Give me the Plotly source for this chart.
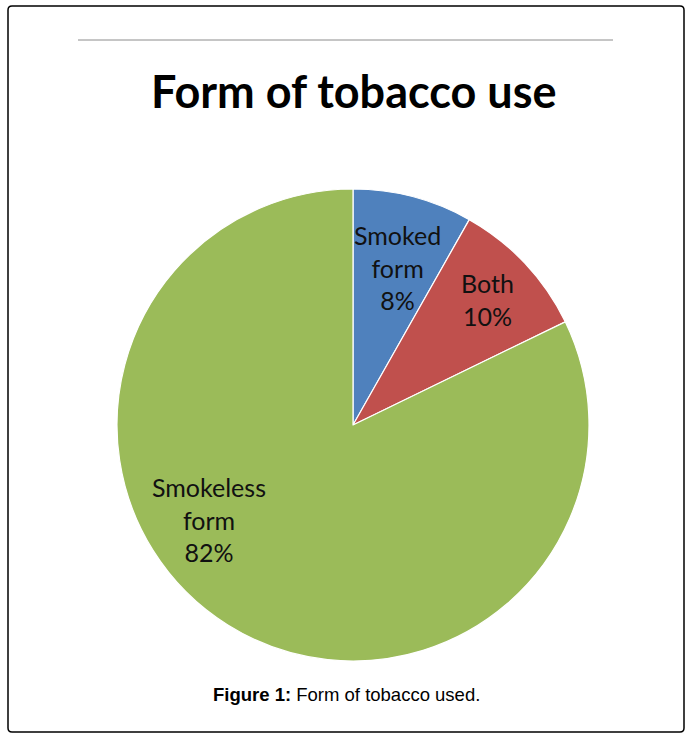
import plotly.graph_objects as go

# Datos del gráfico
categorias = ["Smoked form", "Both", "Smokeless form"]
porcentajes = [8.2, 9.6, 82.2]
colores = ["#4F81BD", "#C0504D", "#9BBB59"]

titulo = "Form of tobacco use"
pie_de_figura = "<b>Figure 1:</b> Form of tobacco used."

W, H = 693, 740


def px_x(x):
    return x / W


def px_y(y):
    return 1 - y / H


fig = go.Figure()

fig.add_trace(go.Pie(
    labels=categorias,
    values=porcentajes,
    sort=False,
    direction="clockwise",
    rotation=0,
    textinfo="none",
    hoverinfo="label+percent",
    marker=dict(colors=colores, line=dict(color="white", width=1.2)),
    domain=dict(x=[px_x(117), px_x(589)], y=[px_y(661), px_y(189)]),
    showlegend=False,
))

# Etiquetas de las porciones (posición a mano, como en Excel)
pos_etiquetas = [(397, 267), (487, 299), (209, 519)]
anotaciones = []
for cat, val, (x, y) in zip(categorias, porcentajes, pos_etiquetas):
    texto = "<br>".join(cat.split(" ")) + f"<br>{round(val)}%"
    anotaciones.append(dict(
        x=px_x(x), y=px_y(y), xref="paper", yref="paper",
        text=texto, showarrow=False,
        font=dict(family="Lato, Open Sans, sans-serif", size=25, color="#111"),
        xanchor="center", yanchor="middle", align="center",
    ))

# Título
anotaciones.append(dict(
    x=px_x(354), y=px_y(91), xref="paper", yref="paper",
    text=f"<b>{titulo}</b>", showarrow=False,
    font=dict(family="Lato, Open Sans, sans-serif", size=45, color="black"),
    xanchor="center", yanchor="middle",
))

# Pie de figura
anotaciones.append(dict(
    x=px_x(346), y=px_y(694), xref="paper", yref="paper",
    text=pie_de_figura, showarrow=False,
    font=dict(family="Liberation Sans, Arial, sans-serif", size=18.5, color="black"),
    xanchor="center", yanchor="middle",
))

# Marco redondeado exterior
x0, x1 = px_x(8), px_x(684)
y0, y1 = px_y(732), px_y(6)
rx, ry = 4 / W, 4 / H
marco = (
    f"M {x0 + rx},{y1} L {x1 - rx},{y1} Q {x1},{y1} {x1},{y1 - ry} "
    f"L {x1},{y0 + ry} Q {x1},{y0} {x1 - rx},{y0} "
    f"L {x0 + rx},{y0} Q {x0},{y0} {x0},{y0 + ry} "
    f"L {x0},{y1 - ry} Q {x0},{y1} {x0 + rx},{y1} Z"
)

fig.update_layout(
    width=W, height=H,
    margin=dict(l=0, r=0, t=0, b=0),
    paper_bgcolor="white",
    plot_bgcolor="white",
    annotations=anotaciones,
    shapes=[
        dict(type="path", xref="paper", yref="paper", path=marco,
             line=dict(color="black", width=1.5)),
        dict(type="line", xref="paper", yref="paper",
             x0=px_x(78), x1=px_x(613), y0=px_y(40), y1=px_y(40),
             line=dict(color="#8c8c8c", width=1)),
    ],
)

# Quitar el margen por defecto del body para que la figura empiece en (0, 0)
fig.write_html(
    "out.html",
    config={"displayModeBar": False},
    post_script="document.body.style.margin = '0';",
)
